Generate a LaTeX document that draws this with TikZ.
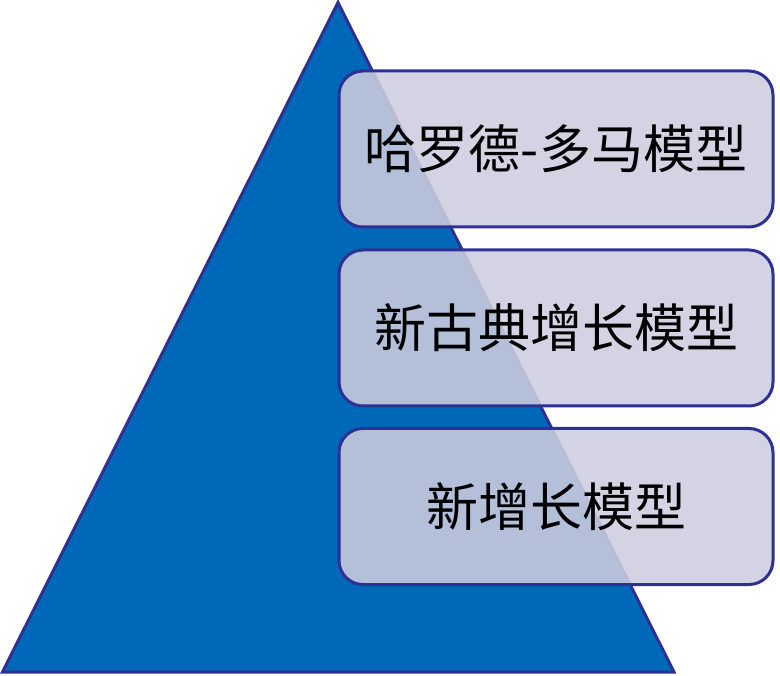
\documentclass[tikz,border=0pt]{standalone}
\usepackage{fontspec}
\newfontfamily\cjk{Noto Sans CJK SC}
\definecolor{pyrblue}{RGB}{0,104,184}
\definecolor{edgenavy}{RGB}{46,49,146}
\definecolor{boxfill}{RGB}{206,205,223}
\tikzset{
  pyramid/.style={fill=pyrblue, draw=edgenavy, line width=3pt, line join=miter},
  levelbox/.style={fill=boxfill, fill opacity=0.88, text opacity=1, draw=edgenavy, line width=3pt,
    rounded corners=24pt, minimum width=434pt, minimum height=156pt, inner sep=0pt,
    font=\cjk\fontsize{52}{60}\selectfont, text=black}
}
\begin{document}
\begin{tikzpicture}[x=1pt,y=-1pt]
\useasboundingbox (0,0) rectangle (780,676);
\coordinate (apex) at (338,2.5);
\coordinate (bl) at (2.5,672);
\coordinate (br) at (674,672);
\draw[pyramid] (apex) -- (bl) -- (br) -- cycle;
\node[levelbox] (b1) at (556,149) {哈罗德-多马模型};
\node[levelbox] (b2) at (556,328) {新古典增长模型};
\node[levelbox] (b3) at (556,506.5) {新增长模型};
\end{tikzpicture}
\end{document}
